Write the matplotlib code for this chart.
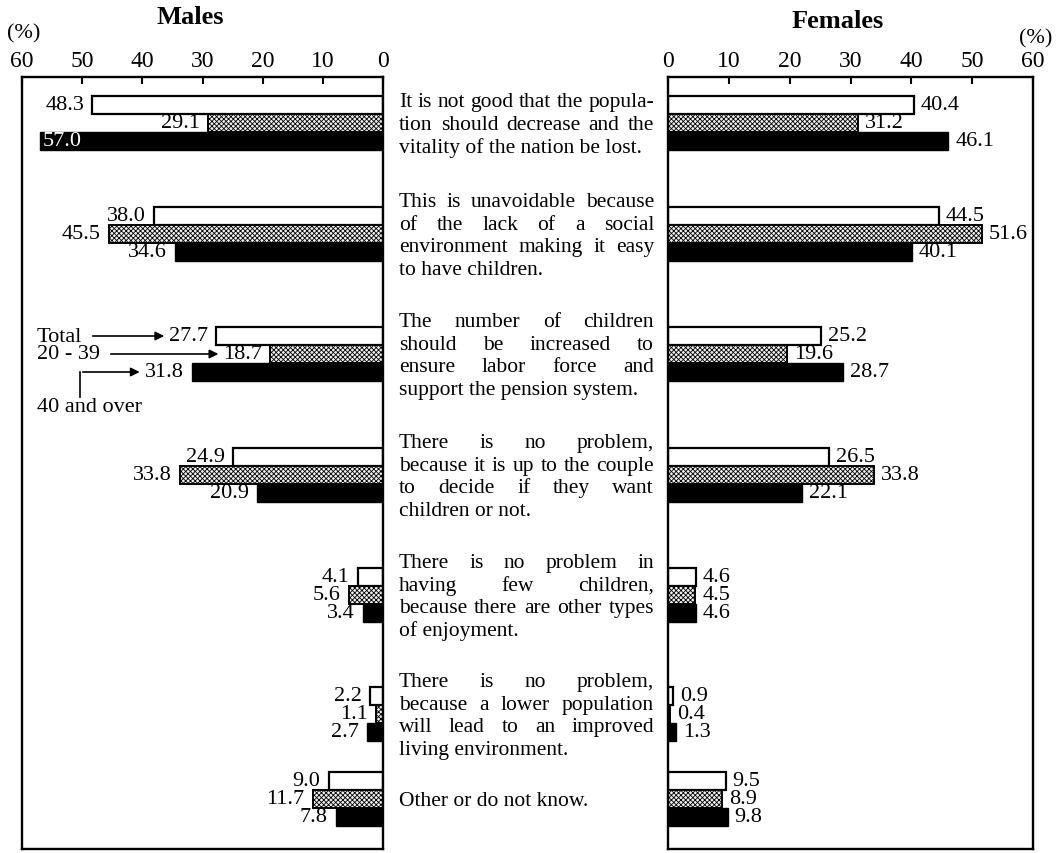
import matplotlib
matplotlib.use('Agg')
import matplotlib.pyplot as plt

# ---------------- data ----------------
categories = [
    ["It is not good that the popula-", "tion should decrease and the", "vitality of the nation be lost."],
    ["This is unavoidable because", "of the lack of a social", "environment making it easy", "to have children."],
    ["The number of children", "should be increased to", "ensure labor force and", "support the pension system."],
    ["There is no problem,", "because it is up to the couple", "to decide if they want", "children or not."],
    ["There is no problem in", "having few children,", "because there are other types", "of enjoyment."],
    ["There is no problem,", "because a lower population", "will lead to an improved", "living environment."],
    ["Other or do not know."],
]
series_names = ["Total", "20 - 39", "40 and over"]
males_total = [48.3, 38.0, 27.7, 24.9, 4.1, 2.2, 9.0]
males_20_39 = [29.1, 45.5, 18.7, 33.8, 5.6, 1.1, 11.7]
males_40_over = [57.0, 34.6, 31.8, 20.9, 3.4, 2.7, 7.8]
females_total = [40.4, 44.5, 25.2, 26.5, 4.6, 0.9, 9.5]
females_20_39 = [31.2, 51.6, 19.6, 33.8, 4.5, 0.4, 8.9]
females_40_over = [46.1, 40.1, 28.7, 22.1, 4.6, 1.3, 9.8]
tick_values = [0, 10, 20, 30, 40, 50, 60]

# ---------------- layout ----------------
W, H = 1060, 854
plt.rcParams['font.family'] = ['Liberation Serif', 'DejaVu Serif']
plt.rcParams['hatch.linewidth'] = 0.6
fig = plt.figure(figsize=(W / 100, H / 100), dpi=100)

TOP, BOT = 78, 850
group_centers = [124, 235, 355, 476, 596, 715, 800]   # pixel rows of the groups
bar_h = 18
offsets = [-bar_h, 0, bar_h]


def fx(x):
    return x / W


def fy(y):
    return 1 - y / H


axL = fig.add_axes([fx(22), fy(BOT), (383 - 22) / W, (BOT - TOP) / H])
axR = fig.add_axes([fx(668), fy(BOT), (1033 - 668) / W, (BOT - TOP) / H])

styles = [
    dict(facecolor='white', edgecolor='black', linewidth=1.6),
    dict(facecolor='#f0f0f0', edgecolor='black', linewidth=1.4, hatch='xxxxxxx'),
    dict(facecolor='black', edgecolor='black', linewidth=1.0),
]

male_series = [males_total, males_20_39, males_40_over]
female_series = [females_total, females_20_39, females_40_over]

val_fs = 16
male_labels = {}
for ax, data, side in [(axL, male_series, 'L'), (axR, female_series, 'R')]:
    for si, (vals, st) in enumerate(zip(data, styles)):
        ys = [c + offsets[si] for c in group_centers]
        ax.barh(ys, vals, height=bar_h, **st, zorder=2)
        for gi, (y, v) in enumerate(zip(ys, vals)):
            txt = f"{v:.1f}"
            if side == 'L':
                if v > 52:
                    t = ax.annotate(txt, (v, y), xytext=(2, 0), textcoords='offset points',
                                    ha='left', va='center', fontsize=val_fs, color='white', zorder=3)
                else:
                    t = ax.annotate(txt, (v, y), xytext=(-6, 0), textcoords='offset points',
                                    ha='right', va='center', fontsize=val_fs, zorder=3)
                male_labels[(gi, si)] = t
            else:
                ax.annotate(txt, (v, y), xytext=(5, 0), textcoords='offset points',
                            ha='left', va='center', fontsize=val_fs, zorder=3)

for ax in (axL, axR):
    ax.set_ylim(BOT, TOP)
    ax.set_yticks([])
    ax.xaxis.tick_top()
    ax.set_xticks(tick_values)
    ax.set_xticklabels([str(t) for t in tick_values], fontsize=17)
    ax.tick_params(axis='x', direction='in', length=5, width=1.5, pad=4)
    for s in ax.spines.values():
        s.set_linewidth(1.7)
axL.set_xlim(60, 0)
axR.set_xlim(0, 60)

# titles
fig.text(fx(190), fy(18), "Males", ha='center', va='center', fontsize=19, fontweight='bold')
fig.text(fx(838), fy(22), "Females", ha='center', va='center', fontsize=19, fontweight='bold')
fig.text(fx(7), fy(34), "(%)", ha='left', va='center', fontsize=16)
fig.text(fx(1052), fy(39), "(%)", ha='right', va='center', fontsize=16)

# ---------------- middle text, justified ----------------
renderer = fig.canvas.get_renderer()
XL, XR = 399, 654
line_sp = 22.7


def measure(s, fs):
    t = fig.text(0, 0, s, fontsize=fs)
    w = t.get_window_extent(renderer).width
    t.remove()
    return w


mid_fs = 16.0
maxw = max(measure(l, mid_fs) for blk in categories for l in blk)
if maxw > (XR - XL):
    mid_fs = mid_fs * (XR - XL) / maxw

for blk, c in zip(categories, group_centers):
    n = len(blk)
    for i, line in enumerate(blk):
        yb = c + (i - (n - 1) / 2) * line_sp + 6
        justify = (i < n - 1)
        words = line.split()
        if not justify or len(words) == 1:
            fig.text(fx(XL), fy(yb), line, ha='left', va='baseline', fontsize=mid_fs)
            continue
        ws = [measure(w, mid_fs) for w in words]
        gap = (XR - XL - sum(ws)) / (len(words) - 1)
        x = XL
        for w, wd in zip(words, ws):
            fig.text(fx(x), fy(yb), w, ha='left', va='baseline', fontsize=mid_fs)
            x += wd + gap

# ---------------- legend-like annotations on males group 3 ----------------
fig.canvas.draw()
g = 2
legend_rows = []
for si in range(3):
    bb = male_labels[(g, si)].get_window_extent(renderer)
    legend_rows.append((bb.x0, H - (bb.y0 + bb.y1) / 2))

ann_fs = 16
arrow_kw = dict(transform=fig.transFigure, arrowstyle='-|>', mutation_scale=13, lw=1.2, color='black')
# Total
x0, yc = legend_rows[0]
fig.text(fx(37), fy(yc), series_names[0], ha='left', va='center', fontsize=ann_fs)
fig.add_artist(matplotlib.patches.FancyArrowPatch((fx(90), fy(yc)), (fx(x0 - 2), fy(yc)), **arrow_kw))
# 20 - 39
x0, yc = legend_rows[1]
fig.text(fx(37), fy(yc), series_names[1], ha='left', va='center', fontsize=ann_fs)
fig.add_artist(matplotlib.patches.FancyArrowPatch((fx(108), fy(yc)), (fx(x0 - 2), fy(yc)), **arrow_kw))
# 40 and over
x0, yc = legend_rows[2]
fig.text(fx(37), fy(408), series_names[2], ha='left', va='center', fontsize=ann_fs)
fig.add_artist(matplotlib.lines.Line2D([fx(80), fx(80)], [fy(398), fy(yc)],
               transform=fig.transFigure, lw=1.2, color='black'))
fig.add_artist(matplotlib.patches.FancyArrowPatch((fx(80), fy(yc)), (fx(x0 - 2), fy(yc)), **arrow_kw))

fig.savefig("out.png", dpi=100)
